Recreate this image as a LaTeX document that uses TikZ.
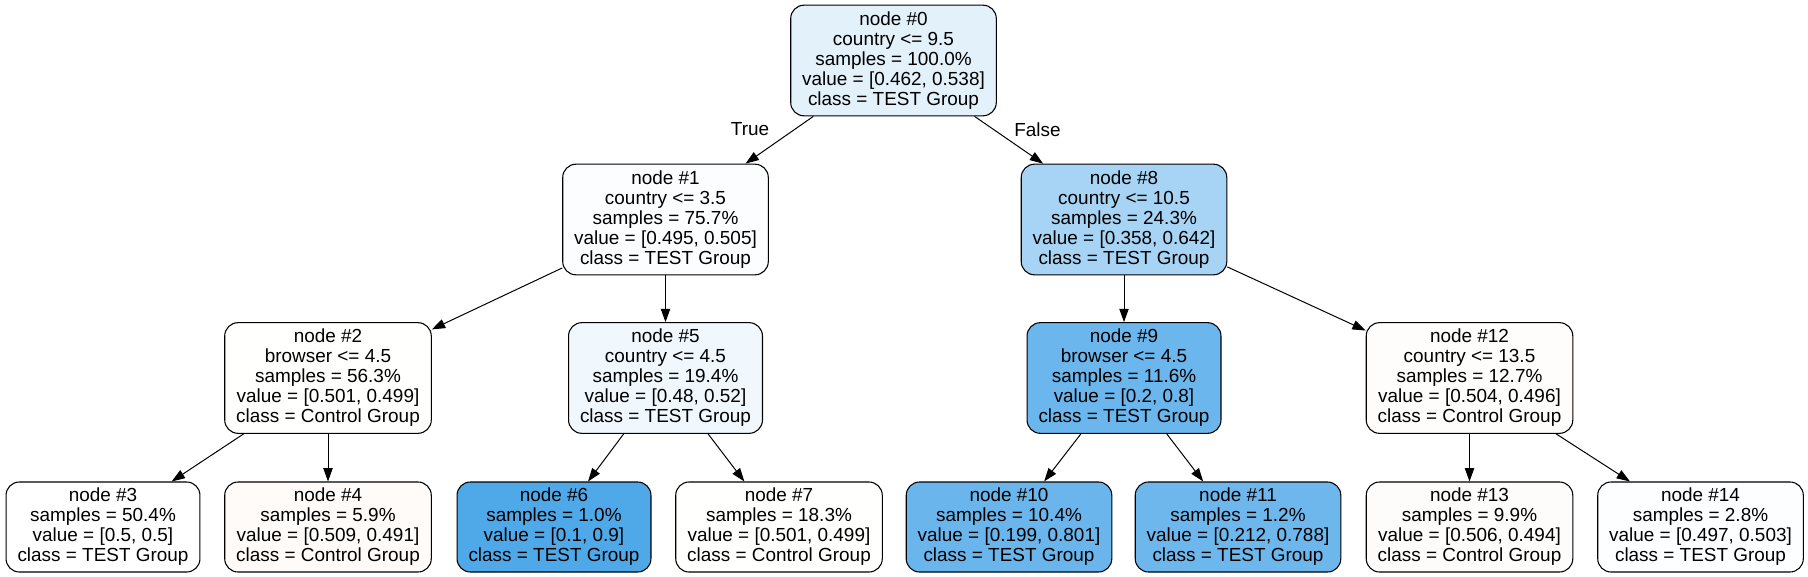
\documentclass[tikz,border=0pt]{standalone}
\usepackage{fontspec}
\setmainfont{Liberation Sans}
\usetikzlibrary{arrows.meta}
\definecolor{fill0}{RGB}{227,241,251}
\definecolor{fill1}{RGB}{251,253,255}
\definecolor{fill2}{RGB}{255,255,254}
\definecolor{fill3}{RGB}{255,255,255}
\definecolor{fill4}{RGB}{254,251,248}
\definecolor{fill5}{RGB}{240,247,253}
\definecolor{fill6}{RGB}{79,168,232}
\definecolor{fill7}{RGB}{255,255,254}
\definecolor{fill8}{RGB}{167,212,244}
\definecolor{fill9}{RGB}{107,182,236}
\definecolor{fill10}{RGB}{106,181,236}
\definecolor{fill11}{RGB}{110,183,236}
\definecolor{fill12}{RGB}{255,253,252}
\definecolor{fill13}{RGB}{254,252,250}
\definecolor{fill14}{RGB}{253,254,255}

\begin{document}
\begin{tikzpicture}[
  x=0.75pt,
  y=-0.75pt,
  every node/.style={
    font=\fontsize{14.2}{15}\selectfont
  },
  split/.style={
    draw=black,
    line width=0.8pt,
    rounded corners=10pt,
    align=center,
    inner xsep=8.6pt,
    inner ysep=2pt,
    minimum height=83pt
  },
  leaf/.style={
    split,
    minimum height=67.5pt
  },
  tree arrow/.style={
    -{Triangle[length=10pt,width=7pt]},
    line width=0.75pt,
    draw=black
  }
]
\useasboundingbox (0,0) rectangle (1808,577);

\node(n0)[split, fill=fill0] at (893.5,60.5) {node \#0\\country <= 9.5\\samples = 100.0\%\\value = [0.462, 0.538]\\class = TEST Group};

\node(n1)[split, fill=fill1] at (665.5,219.5) {node \#1\\country <= 3.5\\samples = 75.7\%\\value = [0.495, 0.505]\\class = TEST Group};
\node(n8)[split, fill=fill8] at (1124,219.5) {node \#8\\country <= 10.5\\samples = 24.3\%\\value = [0.358, 0.642]\\class = TEST Group};

\node(n2)[split, fill=fill2] at (328,378) {node \#2\\browser <= 4.5\\samples = 56.3\%\\value = [0.501, 0.499]\\class = Control Group};
\node(n5)[split, fill=fill5] at (665.5,378) {node \#5\\country <= 4.5\\samples = 19.4\%\\value = [0.48, 0.52]\\class = TEST Group};
\node(n9)[split, fill=fill9] at (1124,378) {node \#9\\browser <= 4.5\\samples = 11.6\%\\value = [0.2, 0.8]\\class = TEST Group};
\node(n12)[split, fill=fill12] at (1469.5,378) {node \#12\\country <= 13.5\\samples = 12.7\%\\value = [0.504, 0.496]\\class = Control Group};

\node(n3)[leaf, fill=fill3] at (103,527) {node \#3\\samples = 50.4\%\\value = [0.5, 0.5]\\class = TEST Group};
\node(n4)[leaf, fill=fill4] at (328,527) {node \#4\\samples = 5.9\%\\value = [0.509, 0.491]\\class = Control Group};
\node(n6)[leaf, fill=fill6] at (554,527) {node \#6\\samples = 1.0\%\\value = [0.1, 0.9]\\class = TEST Group};
\node(n7)[leaf, fill=fill7] at (779,527) {node \#7\\samples = 18.3\%\\value = [0.501, 0.499]\\class = Control Group};
\node(n10)[leaf, fill=fill10] at (1009,527) {node \#10\\samples = 10.4\%\\value = [0.199, 0.801]\\class = TEST Group};
\node(n11)[leaf, fill=fill11] at (1238,527) {node \#11\\samples = 1.2\%\\value = [0.212, 0.788]\\class = TEST Group};
\node(n13)[leaf, fill=fill13] at (1469.5,527) {node \#13\\samples = 9.9\%\\value = [0.506, 0.494]\\class = Control Group};
\node(n14)[leaf, fill=fill14] at (1700.5,527) {node \#14\\samples = 2.8\%\\value = [0.497, 0.503]\\class = TEST Group};

\node(true) at (750,129.5) {True};
\node(false) at (1037.5,129.5) {False};

\draw[tree arrow] (n0) -- (n1);
\draw[tree arrow] (n0) -- (n8);
\draw[tree arrow] (n1) -- (n2);
\draw[tree arrow] (n1) -- (n5);
\draw[tree arrow] (n2) -- (n3);
\draw[tree arrow] (n2) -- (n4);
\draw[tree arrow] (n5) -- (n6);
\draw[tree arrow] (n5) -- (n7);
\draw[tree arrow] (n8) -- (n9);
\draw[tree arrow] (n8) -- (n12);
\draw[tree arrow] (n9) -- (n10);
\draw[tree arrow] (n9) -- (n11);
\draw[tree arrow] (n12) -- (n13);
\draw[tree arrow] (n12) -- (n14);

\end{tikzpicture}
\end{document}
